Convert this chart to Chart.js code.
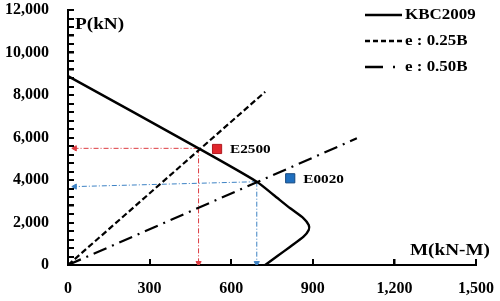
<!DOCTYPE html>
<html>
<head>
<meta charset="utf-8">
<script src="https://cdn.jsdelivr.net/npm/chart.js@4"></script>
<style>
  html, body { margin: 0; padding: 0; background: #fff; }
  #wrap { width: 500px; height: 301px; position: relative; }
</style>
</head>
<body>
<div id="wrap"><canvas id="chart"></canvas></div>
<script>
// ---- data ----
const kbcM = [0, 480, 694, 756, 817, 866, 885, 885, 866, 817, 770, 725];
const kbcP = [8890, 5490, 3920, 3294, 2668, 2197, 1882, 1647, 1333, 861, 420, 0];

const e25M = [0, 725];
const e25P = [0, 8150];

const e50M = [0, 1062];
const e50P = [0, 5960];

const redArrowM = [480, 25];     // horizontal red guide
const redArrowP = [5490, 5490];
const redDownM  = [480, 480];    // vertical red guide
const redDownP  = [5490, 90];

const blueArrowM = [694, 25];
const blueArrowP = [3920, 3690];
const blueDownM  = [694, 694];
const blueDownP  = [3920, 90];

const testNames = ['E2500', 'E0020'];
const testM = [548, 817];
const testP = [5460, 4080];

const xTicks = [0, 300, 600, 900, 1200, 1500];
const yLabelStep = 2000;

const SERIF = "'Liberation Serif', 'Times New Roman', serif";
const RED  = '#e0262c';
const BLUE = '#1f6fbf';
const RED_GUIDE  = '#dd3b40';
const BLUE_GUIDE = '#3d82c4';

const pts = (xs, ys) => xs.map((x, i) => ({ x, y: ys[i] }));

/* -------- inward tick marks, text + legend overlay -------- */
const overlay = {
  id: 'overlay',
  afterDraw(chart) {
    const { ctx, chartArea } = chart;
    const xs = chart.scales.x;
    const ys = chart.scales.y;
    const sx = 1.13; // source picture is stretched a little sideways

    // tick marks pointing into the plot
    ctx.save();
    ctx.strokeStyle = '#000';
    ctx.lineWidth = 2;
    ctx.setLineDash([]);
    for (let v = 0; v <= ys.max; v += 400) {
      const py = Math.round(ys.getPixelForValue(v));
      ctx.beginPath();
      ctx.moveTo(chartArea.left - 1, py);
      ctx.lineTo(chartArea.left + 6, py);
      ctx.stroke();
    }
    xTicks.forEach(v => {
      const px = Math.round(xs.getPixelForValue(v));
      ctx.beginPath();
      ctx.moveTo(px, chartArea.bottom + 1);
      ctx.lineTo(px, chartArea.bottom - 6);
      ctx.stroke();
    });
    ctx.restore();

    function text(str, px, py, size, align) {
      ctx.save();
      ctx.font = `bold ${size}px ${SERIF}`;
      ctx.fillStyle = '#000';
      ctx.textBaseline = 'middle';
      ctx.translate(px, py);
      ctx.scale(sx, 1);
      ctx.textAlign = align || 'left';
      ctx.fillText(str, 0, 0);
      ctx.restore();
    }

    // axis titles
    text('P(kN)', 75, 25, 17);
    text('M(kN-M)', 490, 251, 17, 'right');

    // test point labels
    testNames.forEach((name, i) => {
      text(name, xs.getPixelForValue(testM[i]) + 13, ys.getPixelForValue(testP[i]) + 1, 13.5);
    });

    // legend
    const rows = [
      { label: 'KBC2009',   dash: [],              y: 15 },
      { label: 'e : 0.25B', dash: [5, 3],          y: 41 },
      { label: 'e : 0.50B', dash: [18, 10, 2, 30], y: 67 },
    ];
    rows.forEach(r => {
      ctx.save();
      ctx.strokeStyle = '#000';
      ctx.lineWidth = 2.4;
      ctx.setLineDash(r.dash);
      ctx.beginPath();
      ctx.moveTo(365, r.y);
      ctx.lineTo(402, r.y);
      ctx.stroke();
      ctx.restore();
      text(r.label, 405, r.y, 15);
    });
  }
};

const guide = (data, color, radii, rot) => ({
  data,
  borderColor: color,
  backgroundColor: color,
  borderWidth: 1,
  borderDash: [5, 2, 1, 2],
  pointStyle: 'triangle',
  pointRotation: rot,
  pointRadius: radii,
  pointBorderWidth: 1,
  tension: 0,
  order: 5,
});

new Chart(document.getElementById('chart'), {
  type: 'line',
  data: {
    datasets: [
      {
        label: 'KBC2009',
        data: pts(kbcM, kbcP),
        borderColor: '#000',
        borderWidth: 2.4,
        pointRadius: 0,
        tension: 0.25,
        capBezierPoints: false,
        clip: false,
        order: 1,
      },
      {
        label: 'e : 0.25B',
        data: pts(e25M, e25P),
        borderColor: '#000',
        borderWidth: 2.2,
        borderDash: [6, 3],
        pointRadius: 0,
        order: 2,
      },
      {
        label: 'e : 0.50B',
        data: pts(e50M, e50P),
        borderColor: '#000',
        borderWidth: 2.2,
        borderDash: [14, 6, 2, 6],
        pointRadius: 0,
        order: 3,
      },
      guide(pts(redArrowM, redArrowP), RED_GUIDE, [0, 3], 270),
      guide(pts(redDownM, redDownP), RED_GUIDE, [0, 3], 180),
      guide(pts(blueArrowM, blueArrowP), BLUE_GUIDE, [0, 3], 270),
      guide(pts(blueDownM, blueDownP), BLUE_GUIDE, [0, 3], 180),
      {
        label: 'tests',
        data: pts(testM, testP),
        showLine: false,
        pointStyle: 'rect',
        pointRadius: 6.5,
        pointBackgroundColor: [RED, BLUE],
        pointBorderColor: ['#b01a1f', '#17497f'],
        pointBorderWidth: 1,
        order: 0,
      },
    ],
  },
  options: {
    responsive: true,
    maintainAspectRatio: false,
    animation: false,
    events: [],
    layout: { padding: { top: 10, right: 24, left: 0, bottom: 0 } },
    plugins: { legend: { display: false }, tooltip: { enabled: false } },
    scales: {
      x: {
        type: 'linear',
        min: 0,
        max: 1500,
        afterBuildTicks: scale => { scale.ticks = xTicks.map(v => ({ value: v })); },
        afterFit: scale => { scale.height = 36; scale.paddingLeft = 0; scale.paddingRight = 0; },
        border: { color: '#000', width: 2 },
        grid: { drawOnChartArea: false, color: '#000', lineWidth: 1.5, tickLength: -6 },
        ticks: {
          padding: 20,
          color: '#000',
          font: { family: SERIF, size: 16, weight: 'bold' },
          callback: v => v.toLocaleString('en-US'),
        },
      },
      y: {
        type: 'linear',
        min: 0,
        max: 12000,
        afterFit: scale => { scale.width = 68; scale.paddingTop = 0; scale.paddingBottom = 0; },
        border: { color: '#000', width: 2 },
        grid: { drawOnChartArea: false, color: '#000', lineWidth: 1.5, tickLength: -6 },
        ticks: {
          stepSize: 400,
          autoSkip: false,
          padding: 25,
          color: '#000',
          font: { family: SERIF, size: 16, weight: 'bold' },
          callback: v => (v % yLabelStep === 0 ? v.toLocaleString('en-US') : ''),
        },
      },
    },
  },
  plugins: [overlay],
});
</script>
</body>
</html>
